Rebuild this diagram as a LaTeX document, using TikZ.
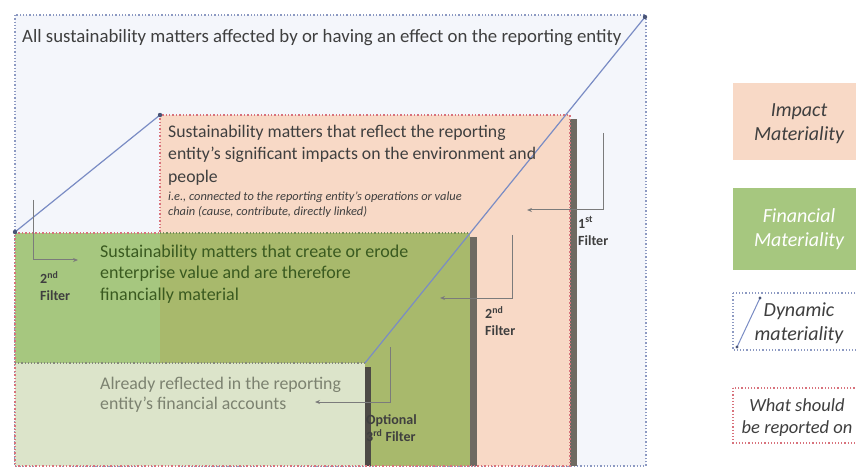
\documentclass[tikz,border=0pt]{standalone}
\usepackage{fontspec}
\setmainfont{Carlito}
\usetikzlibrary{arrows.meta}
\definecolor{outerfill}{HTML}{F4F6FB}
\definecolor{outerline}{HTML}{8C99C2}
\definecolor{impfill}{HTML}{F8D9C6}
\definecolor{redline}{HTML}{D8727C}
\definecolor{greenA}{HTML}{A6C77F}
\definecolor{greenB}{HTML}{A8B96C}
\definecolor{alreadyfill}{HTML}{DCE4CA}
\definecolor{shadowc}{HTML}{6E6A62}
\definecolor{dynline}{HTML}{7A8CC4}
\definecolor{arrowc}{HTML}{7B7B7B}
\definecolor{textc}{HTML}{3F3F3F}
\definecolor{greentext}{HTML}{3A5A20}
\definecolor{alreadytext}{HTML}{7C8270}
\tikzset{
  bigtext/.style={anchor=north west, align=left, inner sep=0pt, text=textc},
  smalltext/.style={anchor=north west, align=left, inner sep=0pt, text=textc, font=\fontsize{12.4}{14.5}\selectfont\itshape},
  filterlbl/.style={anchor=north west, align=left, inner sep=0pt, text=textc, font=\fontsize{14}{17}\selectfont\bfseries},
  filterarrow/.style={draw=arrowc, line width=1pt, -{Stealth[length=5pt,width=4pt]}},
  dynamic/.style={draw=dynline, line width=1.2pt},
  enddot/.style={fill=dynline!60!black},
  legtext/.style={align=center, inner sep=0pt, font=\fontsize{20}{24}\selectfont\itshape},
}
\begin{document}
\begin{tikzpicture}[x=1pt,y=-1pt]
\useasboundingbox (0,0) rectangle (856,470);
\clip (0,0) rectangle (856,470);
\fill[white] (0,0) rectangle (856,470);
% outer box
\fill[outerfill] (15,15) rectangle (646,466);
\draw[outerline, dotted, line width=1.3pt] (15,15) rectangle (646,466);
% impact box
\fill[shadowc] (570,119) rectangle (577,466);
\fill[impfill] (160,115) rectangle (570,466);
% financial box
\fill[shadowc] (470,237) rectangle (477,466);
\fill[greenA] (15,233) rectangle (160,466);
\fill[greenB] (160,233) rectangle (470,466);
\draw[greenA!70!black, dotted, line width=1.2pt] (160,233) -- (470,233);
% already reflected box
\fill[shadowc!70!black] (365,367) rectangle (371,466);
\fill[alreadyfill] (15,363) rectangle (365,466);
\draw[alreadyfill!60!black, dotted, line width=1.2pt] (15,363) -- (365,363);
% red dotted outline of what should be reported on
\draw[redline, dotted, line width=1.4pt] (15,233) -- (160,233) -- (160,115) -- (570,115) -- (570,466) -- (15,466) -- cycle;
% dynamic materiality lines
\coordinate (d1) at (15,232);
\coordinate (d2) at (160,115);
\coordinate (d3) at (365,363);
\coordinate (d4) at (645,17);
\draw[dynamic] (d1) -- (d2);
\draw[dynamic] (d3) -- (d4);
\foreach \p in {d1,d2,d4} \fill[enddot] (\p) circle (2.2pt);
% texts
\node[bigtext, font=\fontsize{18.8}{22}\selectfont] (title) at (22,29.2) {All sustainability matters affected by or having an effect on the reporting entity};
\node[bigtext, font=\fontsize{17.7}{22.5}\selectfont] (imptext) at (168,124.7) {Sustainability matters that reflect the reporting\\entity's significant impacts on the environment and\\people};
\node[smalltext] (impsub) at (168,192) {i.e., connected to the reporting entity's operations or value\\chain (cause, contribute, directly linked)};
\node[bigtext, text=greentext, font=\fontsize{18}{21.5}\selectfont] (fintext) at (100,244.5) {Sustainability matters that create or erode\\enterprise value and are therefore\\financially material};
\node[bigtext, text=alreadytext, font=\fontsize{17.8}{20.5}\selectfont] (alrtext) at (100,376.6) {Already reflected in the reporting\\entity's financial accounts};
% filters
\coordinate (f1a) at (603,133);
\coordinate (f1b) at (603,210);
\coordinate (f1c) at (527,210);
\draw[filterarrow] (f1a) -- (f1b) -- (f1c);
\node[filterlbl] (f1l) at (578,216.5) {1\textsuperscript{st}\\Filter};
\coordinate (f2a) at (512,235);
\coordinate (f2b) at (512,298);
\coordinate (f2c) at (440,298);
\draw[filterarrow] (f2a) -- (f2b) -- (f2c);
\node[filterlbl] (f2l) at (485,306.5) {2\textsuperscript{nd}\\Filter};
\coordinate (f3a) at (33,200);
\coordinate (f3b) at (33,260);
\coordinate (f3c) at (78,260);
\draw[filterarrow] (f3a) -- (f3b) -- (f3c);
\node[filterlbl] (f3l) at (40,271.5) {2\textsuperscript{nd}\\Filter};
\coordinate (f4a) at (390,347);
\coordinate (f4b) at (390,402);
\coordinate (f4c) at (315,402);
\draw[filterarrow] (f4a) -- (f4b) -- (f4c);
\node[filterlbl] (f4l) at (366,414.4) {Optional\\3\textsuperscript{rd} Filter};
% legend
\fill[impfill] (733,83) rectangle (870,160);
\node[legtext, text=textc] (legimp) at (799,123.5) {Impact\\Materiality};
\fill[greenA] (733,188) rectangle (870,270);
\node[legtext, text=white] (legfin) at (799,229.5) {Financial\\Materiality};
\draw[outerline, dotted, line width=1.2pt] (733,293) rectangle (870,350);
\coordinate (ld1) at (737,347);
\coordinate (ld2) at (760,298);
\draw[dynamic, line width=1pt] (ld1) -- (ld2);
\fill[enddot] (ld1) circle (1.6pt);
\fill[enddot] (ld2) circle (1.6pt);
\node[legtext, text=textc] (legdyn) at (799,323.5) {Dynamic\\materiality};
\draw[redline, dotted, line width=1.2pt] (733,388) rectangle (870,443);
\node[legtext, text=textc, font=\fontsize{18.5}{22}\selectfont\itshape] (legwhat) at (797,417.5) {What should\\be reported on};
\end{tikzpicture}
\end{document}
